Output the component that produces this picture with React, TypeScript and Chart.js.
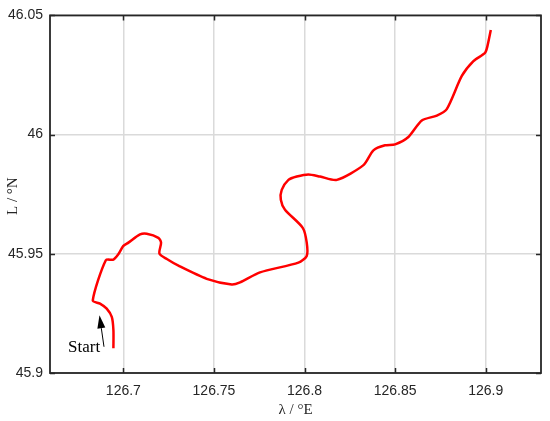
import React, { useEffect, useRef } from "react";
import { Chart, registerables } from "chart.js";

Chart.register(...registerables);

// Track (longitude °E, latitude °N)
const lon = [
  126.6945, 126.6945, 126.6936, 126.6908, 126.6871, 126.6831, 126.6903, 126.6945,
  126.6972, 126.7, 126.7028, 126.7092, 126.7129, 126.7193, 126.7208, 126.7199,
  126.724, 126.7304, 126.746, 126.7598, 126.7644, 126.7754, 126.7966, 126.8012,
  126.8012, 126.799, 126.7892, 126.7869, 126.7874, 126.7911, 126.7957, 126.8021,
  126.8086, 126.8178, 126.8325, 126.838, 126.8444, 126.85, 126.8573, 126.8647,
  126.873, 126.8785, 126.8868, 126.8932, 126.8996, 126.9009, 126.9028,
];
const lat = [
  45.9104, 45.918, 45.9235, 45.927, 45.9291, 45.9304, 45.9473, 45.9476,
  45.9498, 45.9533, 45.9547, 45.9581, 45.9584, 45.9567, 45.9547, 45.9501,
  45.9478, 45.945, 45.9395, 45.9371, 45.938, 45.9422, 45.9463, 45.9491,
  45.9547, 45.9609, 45.9685, 45.9727, 45.9768, 45.981, 45.9824, 45.9833,
  45.9824, 45.981, 45.9872, 45.9934, 45.9955, 45.9959, 45.999, 46.0059,
  46.008, 46.0107, 46.0246, 46.0308, 46.0343, 46.037, 46.0439,
];

const xTicks = [126.7, 126.75, 126.8, 126.85, 126.9];
const xTickLabels = ["126.7", "126.75", "126.8", "126.85", "126.9"];
const yTicks = [45.9, 45.95, 46, 46.05];
const yTickLabels = ["45.9", "45.95", "46", "46.05"];

const xRange = [126.6595, 126.9305];
const yRange = [45.9, 46.05];

const xTitle = "λ / °E";
const yTitle = "L / °N";

const startLabel = "Start";
const startText = { lon: 126.6783, lat: 45.9106 };
const arrowTail = { lon: 126.6893, lat: 45.911 };
const arrowTip = { lon: 126.6868, lat: 45.9242 };

const framePlugin = {
  id: "frame",
  afterDraw(chart: any) {
    const { ctx, chartArea: a, scales } = chart;
    const xs = scales.x;
    const ys = scales.y;
    ctx.save();
    // inward ticks
    ctx.strokeStyle = "#262626";
    ctx.lineWidth = 1.5;
    const tl = 5;
    ctx.beginPath();
    xTicks.forEach((v) => {
      const px = Math.round(xs.getPixelForValue(v)) + 0.5;
      ctx.moveTo(px, a.bottom);
      ctx.lineTo(px, a.bottom - tl);
      ctx.moveTo(px, a.top);
      ctx.lineTo(px, a.top + tl);
    });
    yTicks.forEach((v) => {
      const py = Math.round(ys.getPixelForValue(v)) + 0.5;
      ctx.moveTo(a.left, py);
      ctx.lineTo(a.left + tl, py);
      ctx.moveTo(a.right, py);
      ctx.lineTo(a.right - tl, py);
    });
    ctx.stroke();
    // box
    ctx.lineWidth = 1.8;
    ctx.strokeRect(a.left, a.top, a.right - a.left, a.bottom - a.top);

    // arrow
    const tx = xs.getPixelForValue(arrowTail.lon);
    const ty = ys.getPixelForValue(arrowTail.lat);
    const hx = xs.getPixelForValue(arrowTip.lon);
    const hy = ys.getPixelForValue(arrowTip.lat);
    const ang = Math.atan2(hy - ty, hx - tx);
    const headLen = 13;
    const headW = 4;
    const bx = hx - headLen * Math.cos(ang);
    const by = hy - headLen * Math.sin(ang);
    ctx.strokeStyle = "#000";
    ctx.fillStyle = "#000";
    ctx.lineWidth = 1;
    ctx.beginPath();
    ctx.moveTo(tx, ty);
    ctx.lineTo(bx, by);
    ctx.stroke();
    ctx.beginPath();
    ctx.moveTo(hx, hy);
    ctx.lineTo(bx + headW * Math.sin(ang), by - headW * Math.cos(ang));
    ctx.lineTo(bx - headW * Math.sin(ang), by + headW * Math.cos(ang));
    ctx.closePath();
    ctx.fill();

    // Start label
    ctx.font = '17px "Liberation Serif", "Times New Roman", serif';
    ctx.textAlign = "center";
    ctx.textBaseline = "middle";
    ctx.fillStyle = "#000";
    ctx.fillText(
      startLabel,
      xs.getPixelForValue(startText.lon),
      ys.getPixelForValue(startText.lat)
    );

    // axis titles
    ctx.fillStyle = "#262626";
    ctx.font = '15px "Liberation Serif", "Times New Roman", serif';
    ctx.fillText(xTitle, (a.left + a.right) / 2, 410);
    ctx.save();
    ctx.translate(13, (a.top + a.bottom) / 2 + 2);
    ctx.rotate(-Math.PI / 2);
    ctx.fillText(yTitle, 0, 0);
    ctx.restore();
    ctx.restore();
  },
};

export default function App() {
  const ref = useRef<HTMLCanvasElement>(null);
  useEffect(() => {
    if (!ref.current) return;
    const points = lon.map((x, i) => ({ x, y: lat[i] }));
    const chart = new Chart(ref.current, {
      type: "scatter",
      data: {
        datasets: [
          {
            data: points,
            showLine: true,
            borderColor: "#ff0000",
            borderWidth: 2.5,
            pointRadius: 0,
            tension: 0.25,
            fill: false,
          },
        ],
      },
      options: {
        responsive: false,
        animation: false,
        layout: { padding: { left: 0, right: 9, top: 12, bottom: 0 } },
        plugins: {
          legend: { display: false },
          tooltip: { enabled: false },
        },
        scales: {
          x: {
            type: "linear",
            min: xRange[0],
            max: xRange[1],
            afterBuildTicks: (s: any) => {
              s.ticks = xTicks.map((v) => ({ value: v }));
            },
            afterFit: (s: any) => {
              s.height = 48;
            },
            border: { display: false },
            grid: { color: "#dadada", lineWidth: 1.5, drawTicks: false },
            ticks: {
              padding: 10,
              color: "#262626",
              font: { family: '"Liberation Sans", Arial, sans-serif', size: 14 },
              callback: (v: any) => {
                const i = xTicks.findIndex((t) => Math.abs(t - v) < 1e-6);
                return i >= 0 ? xTickLabels[i] : "";
              },
              maxRotation: 0,
            },
          },
          y: {
            type: "linear",
            min: yRange[0],
            max: yRange[1],
            afterBuildTicks: (s: any) => {
              s.ticks = yTicks.map((v) => ({ value: v }));
            },
            afterFit: (s: any) => {
              s.width = 50;
            },
            border: { display: false },
            grid: { color: "#dadada", lineWidth: 1.5, drawTicks: false },
            ticks: {
              padding: 7,
              color: "#262626",
              font: { family: '"Liberation Sans", Arial, sans-serif', size: 14 },
              callback: (v: any) => {
                const i = yTicks.findIndex((t) => Math.abs(t - v) < 1e-6);
                return i >= 0 ? yTickLabels[i] : "";
              },
            },
          },
        },
      },
      plugins: [framePlugin],
    });
    return () => chart.destroy();
  }, []);
  return (
    <div style={{ position: "absolute", left: 0, top: 0, width: 550, height: 421, background: "#fff" }}>
      <canvas ref={ref} width={550} height={421} />
    </div>
  );
}
